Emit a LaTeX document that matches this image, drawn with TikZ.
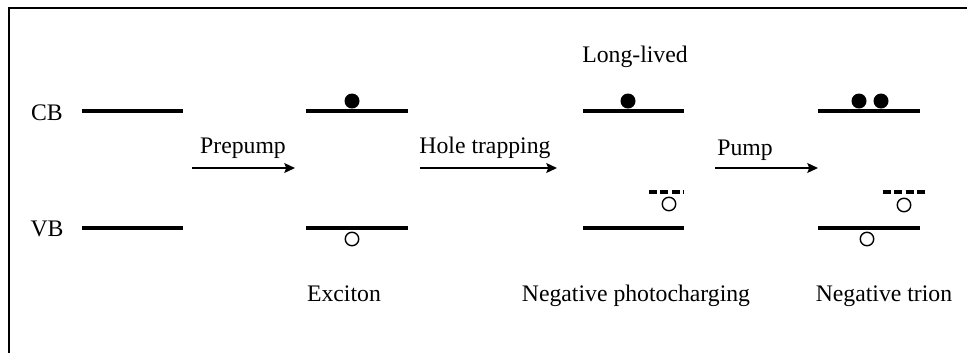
\documentclass[tikz,border=0pt]{standalone}
\usepackage{fontspec}
\setmainfont{Liberation Serif}
\usetikzlibrary{arrows.meta}

\begin{document}
\begin{tikzpicture}[x=0.02cm, y=-0.02cm, font=\fontsize{13.5}{16}\selectfont,
  level/.style={line width=2.2pt},
  trapline/.style={line width=1.8pt, dash pattern=on 4.5pt off 2pt},
  elec/.style={circle, fill=black, inner sep=0pt, minimum size=0.3cm},
  hole/.style={circle, draw=black, line width=0.8pt, inner sep=0pt, minimum size=0.27cm},
  lab/.style={anchor=base, inner sep=0pt},
  step arrow/.style={->, line width=1.6pt},
  >={Stealth[length=6pt, width=5.5pt, inset=1pt]}]
  \useasboundingbox (0,0) rectangle (967,353);
  \draw[line width=0.9pt] (967,8) -- (9,8) -- (9,353);
  % band edges of the four stages
  \foreach \xa/\xb in {82/183, 306/408, 583/684, 818/920} {
    \draw[level] (\xa,111) -- (\xb,111);
    \draw[level] (\xa,228) -- (\xb,228);}
  \node[lab] (cb) at (47,120) {CB};
  \node[lab] (vb) at (47,236) {VB};
  % carriers
  \node[elec] (e1) at (352,101) {};
  \node[hole] (h1) at (352,239) {};
  \node[elec] (e2) at (628,101) {};
  \node[hole] (h2) at (669,204) {};
  \node[elec] (e3) at (859,101) {};
  \node[elec] (e4) at (881,101) {};
  \node[hole] (h3) at (904,205) {};
  \node[hole] (h4) at (867,239) {};
  % trap states
  \draw[trapline] (649,192) -- (684,192);
  \draw[trapline] (883,192) -- (925,192);
  % transitions
  \coordinate (a0) at (192,168); \coordinate (a1) at (295,168);
  \coordinate (b0) at (420,168); \coordinate (b1) at (557,168);
  \coordinate (c0) at (715,168); \coordinate (c1) at (818,168);
  \draw[step arrow] (a0) -- (a1);
  \draw[step arrow] (b0) -- (b1);
  \draw[step arrow] (c0) -- (c1);
  \node[lab] (prepump) at (243,153) {Prepump};
  \node[lab] (trapping) at (485,153) {Hole trapping};
  \node[lab] (pump) at (745,155) {Pump};
  % stage captions
  \node[lab] (longlived) at (635,62) {Long-lived};
  \node[lab] (exciton) at (344,301) {Exciton};
  \node[lab] (photochg) at (636,301) {Negative photocharging};
  \node[lab] (trion) at (884,301) {Negative trion};
\end{tikzpicture}
\end{document}
